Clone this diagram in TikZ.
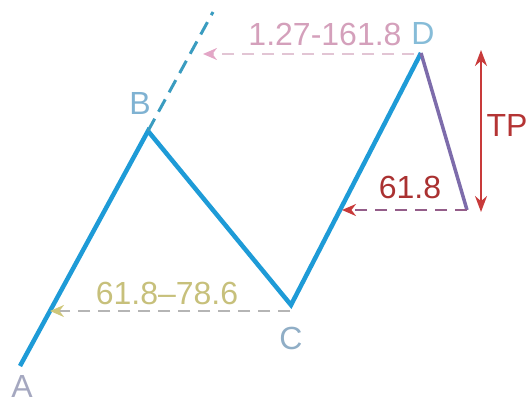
\documentclass[tikz,border=0pt]{standalone}
\usepackage{fontspec}
\setmainfont{Liberation Sans}
\usetikzlibrary{arrows.meta}
\definecolor{wave}{HTML}{1E9BD7}
\definecolor{ext}{HTML}{3A9CC0}
\definecolor{purp}{HTML}{7D6CAB}
\definecolor{pinkc}{HTML}{E3A6C6}
\definecolor{redc}{HTML}{C83A3A}
\definecolor{yelc}{HTML}{CFC77A}
\definecolor{grayc}{HTML}{B5B5B5}
\definecolor{labA}{HTML}{A5A8C0}
\definecolor{labB}{HTML}{7FB2D2}
\definecolor{labC}{HTML}{90AEC6}
\definecolor{labD}{HTML}{86BCD8}
\begin{document}
\begin{tikzpicture}[x=1pt,y=-1pt,
  lab/.style={font=\fontsize{32}{32}\selectfont, inner sep=0pt, text height=23pt, text depth=0pt},
  wavel/.style={draw=wave, line width=4.5pt, line join=miter},
  dsh/.style={line width=2pt, dash pattern=on 12pt off 8pt}
]
\useasboundingbox (0,0) rectangle (529,406);
\coordinate (A) at (20,366);
\coordinate (B) at (148,131);
\coordinate (C) at (291,305);
\coordinate (D) at (421,53);
\coordinate (E) at (467,210);
\coordinate (X) at (213,12);
\coordinate (P0) at (414,54);
\coordinate (P1) at (203,54);
\coordinate (R1) at (342,210);
\coordinate (Y0) at (290,311);
\coordinate (Y1) at (50,311);
\coordinate (T0) at (481,50);
\coordinate (T1) at (481,212);
% waves
\draw[wavel] (A) -- (B) -- (C) -- (D);
\draw[draw=purp, line width=3.5pt] (D) -- (E);
\draw[draw=ext, line width=3pt, dash pattern=on 14pt off 8pt] (B) -- (X);
% arrows
\draw[dsh, draw=pinkc!80!gray!60, -{Stealth[length=14pt,width=12pt,color=pinkc]}] (P0) -- (P1);
\draw[dsh, draw=purp!70!redc, -{Stealth[length=14pt,width=12pt,color=redc]}] (E) -- (R1);
\draw[dsh, draw=grayc, -{Stealth[length=14pt,width=12pt,color=yelc]}] (Y0) -- (Y1);
\draw[draw=redc, line width=2pt, {Stealth[length=16pt,width=12pt]}-{Stealth[length=16pt,width=12pt]}] (T0) -- (T1);
% labels
\node[lab, text=labA] (lA) at (22,386) {A};
\node[lab, text=labB] (lB) at (140,103) {B};
\node[lab, text=labC] (lC) at (291,338) {C};
\node[lab, text=labD] (lD) at (423,33) {D};
\node[lab, text=pinkc!85!gray] (lP) at (325,34) {1.27-161.8};
\node[lab, text=redc!85!black] (lR) at (410,187) {61.8};
\node[lab, text=yelc!90!gray] (lY) at (167,293) {61.8--78.6};
\node[lab, text=redc!90!black] (lT) at (507,125) {TP};
\end{tikzpicture}
\end{document}
